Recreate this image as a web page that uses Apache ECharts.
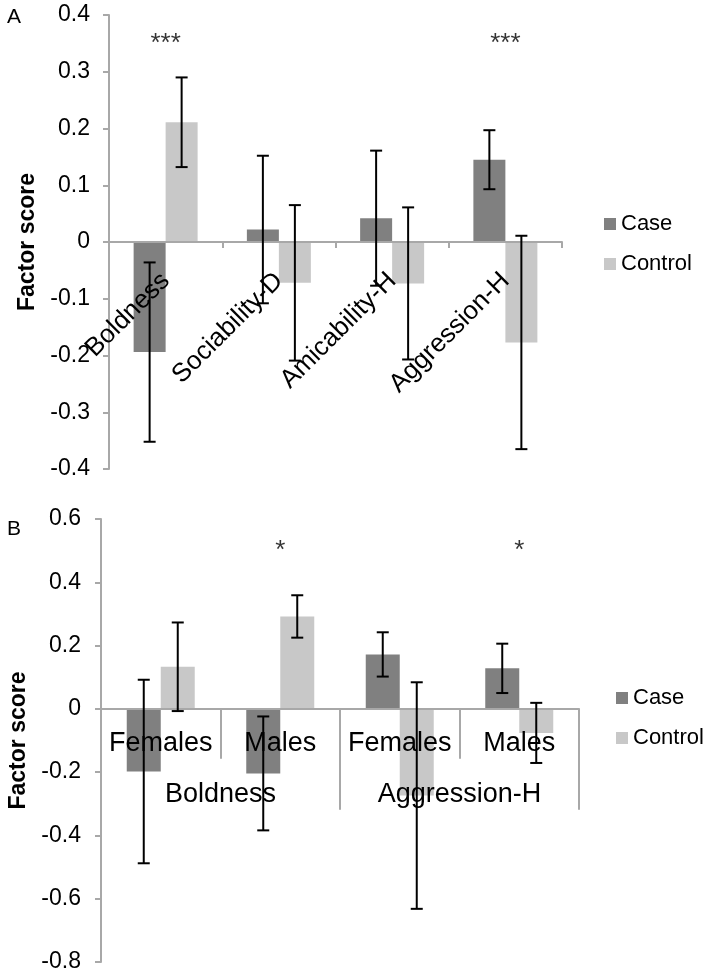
<!DOCTYPE html>
<html><head><meta charset="utf-8">
<script src="https://cdn.jsdelivr.net/npm/echarts@6/dist/echarts.min.js"></script>
<style>html,body{margin:0;padding:0;background:#fff}#c{width:711px;height:976px}</style>
</head><body><div id="c"></div>
<script>
// ---- Panel A data ----
const traitsA = ['Boldness', 'Sociability-D', 'Amicability-H', 'Aggression-H'];
const caseA = [-0.194, 0.022, 0.042, 0.145];
const caseErrA = [0.158, 0.130, 0.119, 0.052];
const controlA = [0.211, -0.072, -0.073, -0.177];
const controlErrA = [0.079, 0.137, 0.134, 0.188];
const sigA = ['***', '', '', '***'];
const yTicksA = [-0.4, -0.3, -0.2, -0.1, 0, 0.1, 0.2, 0.3, 0.4];

// ---- Panel B data ----
const sexB = ['Females', 'Males', 'Females', 'Males'];
const traitsB = ['Boldness', 'Aggression-H'];
const caseB = [-0.198, -0.204, 0.172, 0.128];
const caseErrB = [0.290, 0.180, 0.070, 0.078];
const controlB = [0.133, 0.292, -0.274, -0.076];
const controlErrB = [0.140, 0.067, 0.358, 0.095];
const sigB = ['', '*', '', '*'];
const yTicksB = [-0.8, -0.6, -0.4, -0.2, 0, 0.2, 0.4, 0.6];

const F = '"Liberation Sans", Arial, Helvetica, sans-serif';
const AX = '#a8a8a8';
const CASE_COLOR = '#808080';
const CONTROL_COLOR = '#c8c8c8';
const BAR_A = 32, BAR_B = 34;
const GA = { left: 109, top: 15, width: 453, height: 454 };
const GB = { left: 101, top: 519, width: 478, height: 443 };

// distance from the zero line down to the bottom of a grid
function zeroToBottom(g, ticks) {
  const mn = ticks[0], mx = ticks[ticks.length - 1];
  return g.height * (0 - mn) / (mx - mn);
}

function makeErr(sign, barW) {
  return function (params, api) {
    const i = api.value(0), m = api.value(1), e = api.value(2);
    const cx = api.coord([i, m])[0] + sign * barW / 2;
    const yt = api.coord([i, m + e])[1];
    const yb = api.coord([i, m - e])[1];
    const hw = 6;
    const st = { stroke: '#000', lineWidth: 2 };
    return { type: 'group', children: [
      { type: 'line', shape: { x1: cx, y1: yt, x2: cx, y2: yb }, style: st },
      { type: 'line', shape: { x1: cx - hw, y1: yt, x2: cx + hw, y2: yt }, style: st },
      { type: 'line', shape: { x1: cx - hw, y1: yb, x2: cx + hw, y2: yb }, style: st }
    ]};
  };
}
function errSeries(name, xi, yi, means, errs, sign, barW) {
  return { name: name, type: 'custom', xAxisIndex: xi, yAxisIndex: yi, z: 6, silent: true,
    renderItem: makeErr(sign, barW),
    data: means.map((m, i) => [i, m, errs[i]]) };
}
function sigSeries(xi, yi, sig, yPos) {
  return { name: 'sig' + xi, type: 'scatter', xAxisIndex: xi, yAxisIndex: yi, symbolSize: 1, silent: true, z: 7,
    itemStyle: { color: 'rgba(0,0,0,0)' },
    label: { show: true, position: 'inside', fontSize: 26, color: '#000', fontFamily: F,
      formatter: p => p.data.txt },
    data: sig.map((s, i) => s ? { value: [i, yPos], txt: s } : null).filter(Boolean) };
}
function yAxisOf(grid, ticks, show, margin) {
  return { gridIndex: grid, type: 'value', show: show,
    min: ticks[0], max: ticks[ticks.length - 1], interval: +(ticks[1] - ticks[0]).toFixed(6),
    name: 'Factor score', nameLocation: 'middle', nameGap: 66,
    nameTextStyle: { fontSize: 23, fontWeight: 'bold', color: '#000', fontFamily: F },
    axisLine: { show: true, lineStyle: { color: AX, width: 2 } },
    axisTick: { show: true, length: 6, lineStyle: { color: AX, width: 2 } },
    splitLine: { show: false },
    axisLabel: { fontSize: 23, color: '#000', margin: margin, fontFamily: F } };
}

const dA = zeroToBottom(GA, yTicksA);
const dB = zeroToBottom(GB, yTicksB);

const chart = echarts.init(document.getElementById('c'), null, { renderer: 'canvas' });
chart.setOption({
  animation: false,
  backgroundColor: '#fff',
  textStyle: { fontFamily: F },
  graphic: [
    { type: 'text', left: 7, top: 7, style: { text: 'A', fontSize: 21, fill: '#000', fontFamily: F } },
    { type: 'text', left: 7, top: 519, style: { text: 'B', fontSize: 21, fill: '#000', fontFamily: F } }
  ],
  legend: [
    { data: ['Case', 'Control'], orient: 'vertical', left: 604, top: 213, padding: 0, itemWidth: 12, itemHeight: 12, itemGap: 18,
      icon: 'rect', selectedMode: false, textStyle: { fontSize: 22, lineHeight: 22, color: '#000', fontFamily: F } },
    { data: ['Case', 'Control'], orient: 'vertical', left: 616, top: 687, padding: 0, itemWidth: 12, itemHeight: 12, itemGap: 18,
      icon: 'rect', selectedMode: false, textStyle: { fontSize: 22, lineHeight: 22, color: '#000', fontFamily: F } }
  ],
  grid: [
    Object.assign({ containLabel: false, outerBoundsMode: 'none' }, GA),
    Object.assign({ containLabel: false, outerBoundsMode: 'none' }, GB),
    Object.assign({ containLabel: false, outerBoundsMode: 'none' }, GB)
  ],
  xAxis: [
    { gridIndex: 0, type: 'category', data: traitsA, z: 3,
      axisLine: { onZero: true, lineStyle: { color: AX, width: 2 } },
      axisTick: { show: true, length: 6, lineStyle: { color: AX, width: 2 } },
      axisLabel: { interval: 0, rotate: 45, margin: 35 - dA, fontSize: 26, color: '#000', fontFamily: F } },
    { gridIndex: 1, type: 'category', data: sexB, z: 3,
      axisLine: { onZero: true, lineStyle: { color: AX, width: 2 } },
      axisTick: { show: true, length: 50, lineStyle: { color: AX, width: 2 } },
      axisLabel: { interval: 0, margin: 21 - dB, fontSize: 27, color: '#000', fontFamily: F } },
    { gridIndex: 2, type: 'category', data: traitsB, z: 3,
      axisLine: { show: false, onZero: true },
      axisTick: { show: true, length: 101, lineStyle: { color: AX, width: 2 } },
      axisLabel: { interval: 0, margin: 72 - dB, fontSize: 27, color: '#000', fontFamily: F } }
  ],
  yAxis: [
    yAxisOf(0, yTicksA, true, 19),
    yAxisOf(1, yTicksB, true, 20),
    yAxisOf(2, yTicksB, false, 20)
  ],
  series: [
    { name: 'Case', type: 'bar', xAxisIndex: 0, yAxisIndex: 0, data: caseA, barWidth: BAR_A, barGap: '0%', itemStyle: { color: CASE_COLOR } },
    { name: 'Control', type: 'bar', xAxisIndex: 0, yAxisIndex: 0, data: controlA, barWidth: BAR_A, barGap: '0%', itemStyle: { color: CONTROL_COLOR } },
    errSeries('errCaseA', 0, 0, caseA, caseErrA, -1, BAR_A),
    errSeries('errControlA', 0, 0, controlA, controlErrA, 1, BAR_A),
    sigSeries(0, 0, sigA, 0.35),
    { name: 'Case', type: 'bar', xAxisIndex: 1, yAxisIndex: 1, data: caseB, barWidth: BAR_B, barGap: '0%', itemStyle: { color: CASE_COLOR } },
    { name: 'Control', type: 'bar', xAxisIndex: 1, yAxisIndex: 1, data: controlB, barWidth: BAR_B, barGap: '0%', itemStyle: { color: CONTROL_COLOR } },
    errSeries('errCaseB', 1, 1, caseB, caseErrB, -1, BAR_B),
    errSeries('errControlB', 1, 1, controlB, controlErrB, 1, BAR_B),
    sigSeries(1, 1, sigB, 0.50)
  ]
});
</script></body></html>
